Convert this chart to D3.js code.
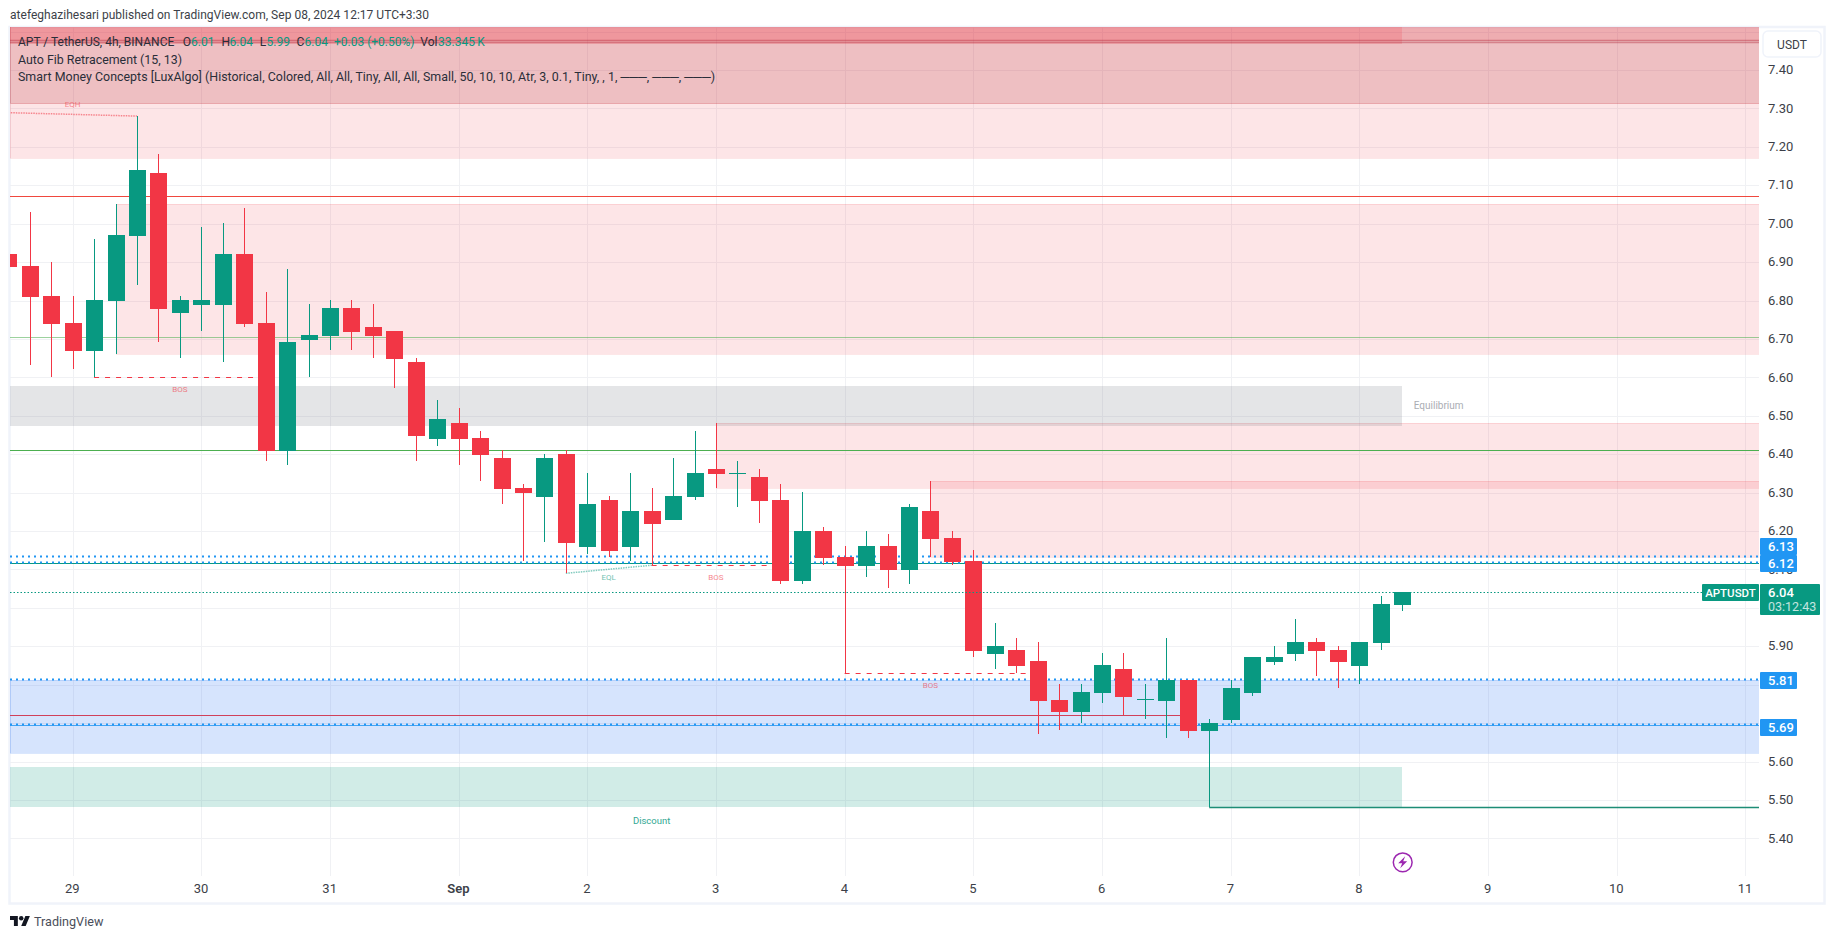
<!DOCTYPE html>
<html>
<head>
<meta charset="utf-8">
<title>APTUSDT 4h</title>
<script src="https://cdn.jsdelivr.net/npm/d3@7"></script>
<style>
    html, body { margin: 0; padding: 0; background: #fff; overflow: hidden; }
    svg { display: block; }
    text { font-family: Roboto, "Liberation Sans", sans-serif; }
</style>
</head>
<body>
<div id="chart"></div>
<script>
// 4h candles, first one is partly cut by the left edge of the pane
const opens = [6.921, 6.890, 6.812, 6.741, 6.669, 6.799, 6.968, 7.132, 6.768, 6.788, 6.788, 6.921,
    6.741, 6.409, 6.697, 6.708, 6.781, 6.731, 6.721, 6.640, 6.439, 6.481, 6.442, 6.390,
    6.312, 6.289, 6.401, 6.159, 6.281, 6.159, 6.252, 6.229, 6.289, 6.361, 6.348, 6.341,
    6.281, 6.070, 6.200, 6.132, 6.109, 6.161, 6.099, 6.252, 6.182, 6.122, 5.880, 5.890,
    5.862, 5.760, 5.729, 5.778, 5.841, 5.760, 5.758, 5.812, 5.680, 5.708, 5.778, 5.859,
    5.880, 5.911, 5.890, 5.849, 5.909, 6.008];
const highs = [6.921, 7.030, 6.900, 6.812, 6.960, 7.051, 7.280, 7.181, 6.812, 6.991, 7.002, 7.041,
    6.822, 6.882, 6.791, 6.801, 6.801, 6.791, 6.721, 6.650, 6.541, 6.520, 6.460, 6.411,
    6.322, 6.401, 6.411, 6.351, 6.291, 6.351, 6.312, 6.390, 6.460, 6.481, 6.382, 6.361,
    6.322, 6.302, 6.211, 6.161, 6.200, 6.192, 6.270, 6.330, 6.200, 6.151, 5.961, 5.922,
    5.911, 5.802, 5.802, 5.883, 5.883, 5.802, 5.922, 5.812, 5.711, 5.812, 5.872, 5.901,
    5.971, 5.922, 5.901, 5.911, 6.031, 6.041];
const lows = [6.888, 6.632, 6.601, 6.622, 6.600, 6.661, 6.840, 6.692, 6.650, 6.721, 6.640, 6.731,
    6.382, 6.372, 6.601, 6.671, 6.671, 6.650, 6.572, 6.382, 6.421, 6.372, 6.330, 6.270,
    6.122, 6.172, 6.090, 6.140, 6.132, 6.122, 6.111, 6.229, 6.281, 6.312, 6.263, 6.221,
    6.062, 6.062, 6.112, 5.830, 6.080, 6.052, 6.062, 6.132, 6.112, 5.872, 5.841, 5.831,
    5.672, 5.682, 5.700, 5.752, 5.721, 5.711, 5.661, 5.661, 5.481, 5.700, 5.771, 5.851,
    5.862, 5.823, 5.791, 5.802, 5.890, 5.992];
const closes = [6.888, 6.809, 6.739, 6.669, 6.801, 6.971, 7.140, 6.778, 6.801, 6.801, 6.921, 6.739,
    6.409, 6.692, 6.710, 6.781, 6.718, 6.708, 6.648, 6.447, 6.492, 6.439, 6.398, 6.309,
    6.299, 6.390, 6.169, 6.270, 6.148, 6.252, 6.218, 6.291, 6.351, 6.348, 6.351, 6.278,
    6.070, 6.200, 6.130, 6.109, 6.161, 6.099, 6.263, 6.179, 6.119, 5.888, 5.901, 5.849,
    5.758, 5.729, 5.781, 5.851, 5.768, 5.762, 5.812, 5.680, 5.700, 5.791, 5.872, 5.872,
    5.911, 5.888, 5.859, 5.911, 6.010, 6.041];

// axis ticks
const dayTicks = [3, 9, 15, 21, 27, 33, 39, 45, 51, 57, 63, 69, 75, 81];
const dayLabels = ["29", "30", "31", "Sep", "2", "3", "4", "5", "6", "7", "8", "9", "10", "11"];
const gridPrices = [7.5, 7.4, 7.3, 7.2, 7.1, 7.0, 6.9, 6.8, 6.7, 6.6, 6.5, 6.4, 6.3, 6.2, 6.1,
    6.0, 5.9, 5.8, 5.7, 5.6, 5.5, 5.4];
// 6.00 and 5.70 sit fully behind the price boxes, so they get no label
const labelPrices = [7.4, 7.3, 7.2, 7.1, 7.0, 6.9, 6.8, 6.7, 6.6, 6.5, 6.4, 6.3, 6.2, 6.1,
    5.9, 5.8, 5.6, 5.5, 5.4];

// smart money zones: [from bar, to bar, top price, bottom price]
const redZones = [
    [0, 90, 7.313, 7.172],
    [5, 90, 7.05, 6.661],
    [33, 90, 6.48, 6.313],
    [43, 90, 6.33, 6.133]
];
const darkTopZone = [0, 90, 7.52, 7.313];
const upperTopZone = [0, 90, 7.52, 7.475];
const leftTopZone = [0, 65, 7.52, 7.468];
const equilibriumZone = [0, 65, 6.577, 6.473];
const discountZone = [0, 65, 5.586, 5.482];
const blueZone = [0, 90, 5.812, 5.623];

// horizontal levels
const fibUpper = 7.072;
const fibMiddle = 6.704;
const fibLower = 6.41;
const tealLevel = 6.117;
const redLevel = [0, 55, 5.72];
const lowLevel = [56, 90, 5.482];
const topLevels = [7.479, 7.473];
const dottedLevels = [6.135, 6.12, 5.815, 5.697];
const solidBlueLevel = 5.695;
const lastPrice = 6.041;

// BOS dashes: [from bar, to bar, price]
const bosLines = [
    [4, 12, 6.60],
    [30, 36, 6.111],
    [39, 48, 5.83]
];
// equal highs / lows: [from bar, from price, to bar, to price]
const eqhLine = [0, 7.289, 6, 7.28];
const eqlLine = [26, 6.09, 30, 6.111];

// small labels in the pane: [text, bar, price]
const bosLabels = [["BOS", 8, 6.57], ["BOS", 33, 6.08], ["BOS", 43, 5.80]];
const eqhLabel = ["EQH", 3, 7.312];
const eqlLabel = ["EQL", 28, 6.08];
const equilibriumLabel = ["Equilibrium", 66.7, 6.526];
const discountLabel = ["Discount", 30, 5.445];

// boxes on the price axis
const priceBoxes = [["6.13", 6.16], ["6.12", 6.117], ["5.81", 5.812], ["5.69", 5.69]];

// legend line one: [text, left edge, value colour or not]
const legendParts = [
    ["APT / TetherUS, 4h, BINANCE", 18, false],
    ["O", 182.7, false], ["6.01", 191, true],
    ["H", 221.4, false], ["6.04", 229.5, true],
    ["L", 259.8, false], ["5.99", 266.5, true],
    ["C", 296.6, false], ["6.04", 304.5, true],
    ["+0.03 (+0.50%)", 334, true],
    ["Vol", 420.3, false], ["33.345\u2009K", 438, true]
];

const upColor = "#089981";
const downColor = "#F23645";
const blueColor = "#2196F3";
const gridColor = "#f0f1f4";
const frameColor = "#f0f3fa";
const textColor = "#3c3f48";

const width = 1835, height = 939;
const pane = { left: 10, top: 27, right: 1759, bottom: 876 };

const svg = d3.select("#chart").append("svg")
    .attr("width", width)
    .attr("height", height);

const x = d3.scaleLinear().domain([0, 81]).range([8.3, 1745.3]);
const y = d3.scaleLinear().domain([7.4, 5.4]).range([70, 838.4]);

svg.append("defs").append("clipPath").attr("id", "pane-clip")
    .append("rect")
    .attr("x", pane.left)
    .attr("y", pane.top)
    .attr("width", pane.right - pane.left)
    .attr("height", pane.bottom - pane.top);

// frame round the chart
svg.append("rect")
    .attr("x", 9.5).attr("y", 27)
    .attr("width", 1815).attr("height", 876.5)
    .attr("fill", "none")
    .attr("stroke", frameColor)
    .attr("stroke-width", 2.5);

// published line
svg.append("text")
    .attr("x", 10).attr("y", 19)
    .attr("font-size", 12).attr("fill", textColor)
    .attr("textLength", 419).attr("lengthAdjust", "spacing")
    .text("atefeghazihesari published on TradingView.com, Sep 08, 2024 12:17 UTC+3:30");

const plot = svg.append("g").attr("clip-path", "url(#pane-clip)");

// grid
plot.append("g").selectAll("line").data(gridPrices).join("line")
    .attr("x1", pane.left).attr("x2", pane.right)
    .attr("y1", d => Math.round(y(d)) + 0.5).attr("y2", d => Math.round(y(d)) + 0.5)
    .attr("stroke", gridColor);
plot.append("g").selectAll("line").data(dayTicks).join("line")
    .attr("x1", d => Math.round(x(d)) + 0.5).attr("x2", d => Math.round(x(d)) + 0.5)
    .attr("y1", pane.top).attr("y2", pane.bottom)
    .attr("stroke", gridColor);

function drawZone(zone, fill, stroke) {
    const x0 = zone[0] === 0 ? pane.left : Math.round(x(zone[0]));
    const x1 = zone[1] === 90 ? pane.right : Math.round(x(zone[1]));
    const y0 = Math.round(y(zone[2]));
    const y1 = Math.round(y(zone[3]));
    plot.append("rect")
        .attr("x", x0).attr("y", y0)
        .attr("width", x1 - x0).attr("height", y1 - y0)
        .attr("fill", fill)
        .attr("stroke", stroke || "none")
        .attr("shape-rendering", "crispEdges");
}

function drawLevel(price, from, to, color, opts) {
    const o = opts || {};
    const py = Math.round(y(price)) + 0.5;
    plot.append("line")
        .attr("x1", from).attr("x2", to)
        .attr("y1", py).attr("y2", py)
        .attr("stroke", color)
        .attr("stroke-width", o.width || 1)
        .attr("stroke-dasharray", o.dash || null)
        .attr("opacity", o.opacity || 1);
}

// zones
const redFill = "rgba(242,54,69,0.13)";
const redEdge = "rgba(242,54,69,0.12)";
redZones.forEach(z => drawZone(z, redFill, redEdge));
drawZone([0, 90, 7.52, 7.313], redFill);
drawZone(darkTopZone, "rgba(178,40,51,0.2)", "rgba(178,40,51,0.25)");
drawZone(upperTopZone, redFill);
drawZone(leftTopZone, "rgba(242,54,69,0.18)");
drawZone(equilibriumZone, "rgba(120,123,134,0.2)");
drawZone(discountZone, "rgba(8,153,129,0.19)");
drawZone(blueZone, "rgba(50,120,245,0.2)", "rgba(50,120,245,0.18)");

// fib and order block levels, all behind the candles
topLevels.forEach(p => drawLevel(p, pane.left, pane.right, "#b2283a", { opacity: 0.4, width: 1.5 }));
drawLevel(fibUpper, pane.left, pane.right, "#f0483e");
drawLevel(fibMiddle, pane.left, pane.right, "#4caf50", { opacity: 0.55 });
drawLevel(fibLower, pane.left, pane.right, "#4caf50", { width: 1.2 });
drawLevel(tealLevel, pane.left, pane.right, upColor, { width: 1.2 });
drawLevel(redLevel[2], pane.left, x(redLevel[1]), "#d0405a", { width: 1.2 });
drawLevel(lowLevel[2], x(lowLevel[0]), pane.right, "#1d8d76", { width: 1.4 });
dottedLevels.forEach(p => drawLevel(p, pane.left, pane.right, blueColor, { width: 2, dash: "2 4" }));
drawLevel(solidBlueLevel, pane.left, pane.right, blueColor, { opacity: 0.8 });

bosLines.forEach(d => {
    plot.append("line")
        .attr("x1", x(d[0])).attr("x2", x(d[1]))
        .attr("y1", Math.round(y(d[2])) + 0.5).attr("y2", Math.round(y(d[2])) + 0.5)
        .attr("stroke", downColor)
        .attr("stroke-dasharray", "5 6");
});

plot.append("line")
    .attr("x1", x(eqhLine[0])).attr("y1", y(eqhLine[1]))
    .attr("x2", x(eqhLine[2])).attr("y2", y(eqhLine[3]))
    .attr("stroke", downColor).attr("opacity", 0.55)
    .attr("stroke-width", 1.5).attr("stroke-dasharray", "1.5 1");
plot.append("line")
    .attr("x1", x(eqlLine[0])).attr("y1", y(eqlLine[1]))
    .attr("x2", x(eqlLine[2])).attr("y2", y(eqlLine[3]))
    .attr("stroke", upColor).attr("opacity", 0.5)
    .attr("stroke-width", 1.5).attr("stroke-dasharray", "1.5 1");

// candles
const candles = plot.append("g").selectAll("g").data(closes).join("g")
    .attr("fill", (d, i) => d >= opens[i] ? upColor : downColor);
candles.append("rect")
    .attr("x", (d, i) => Math.round(x(i)))
    .attr("width", 1)
    .attr("y", (d, i) => Math.round(y(highs[i])))
    .attr("height", (d, i) => Math.round(y(lows[i])) - Math.round(y(highs[i])))
    .attr("shape-rendering", "crispEdges");
candles.append("rect")
    .attr("x", (d, i) => Math.round(x(i)) - 8)
    .attr("width", 17)
    .attr("y", (d, i) => Math.round(y(Math.max(d, opens[i]))))
    .attr("height", (d, i) => Math.max(1, Math.round(y(Math.min(d, opens[i]))) - Math.round(y(Math.max(d, opens[i])))))
    .attr("shape-rendering", "crispEdges");

// last price line goes over the candles
drawLevel(lastPrice, pane.left, pane.right, upColor, { dash: "1.5 2" });

// small labels
function paneLabel(d, color, size, opacity) {
    plot.append("text")
        .attr("x", x(d[1])).attr("y", y(d[2]))
        .attr("dy", "0.35em")
        .attr("text-anchor", "middle")
        .attr("font-size", size)
        .attr("fill", color)
        .attr("opacity", opacity)
        .text(d[0]);
}
bosLabels.forEach(d => paneLabel(d, downColor, 8, 0.6));
paneLabel(eqhLabel, downColor, 8, 0.55);
paneLabel(eqlLabel, upColor, 8, 0.6);
paneLabel(equilibriumLabel, "#9598a1", 10, 0.8);
paneLabel(discountLabel, upColor, 9.5, 0.85);

// lightning icon
const bolt = svg.append("g").attr("transform", "translate(1402.7,862.3)");
bolt.append("circle").attr("r", 9.4).attr("fill", "#fff").attr("stroke", "#9c27b0").attr("stroke-width", 1.5);
bolt.append("path").attr("d", "M2.5,-6 L-4.5,1 L-0.5,1 L-2.5,6 L4.5,-1 L0.5,-1 Z").attr("fill", "#9c27b0");

// price axis
const priceAxis = d3.axisRight(y)
    .tickValues(labelPrices)
    .tickSize(0)
    .tickPadding(0)
    .tickFormat(d3.format(".2f"));
const priceG = svg.append("g")
    .attr("transform", "translate(1768,-0.5)")
    .call(priceAxis);
priceG.select(".domain").remove();
priceG.selectAll("text").attr("font-size", 13).attr("fill", textColor)
    .style("font-family", "Roboto, sans-serif");

// time axis
const timeAxis = d3.axisBottom(x)
    .tickValues(dayTicks)
    .tickSize(0)
    .tickPadding(0)
    .tickFormat((d, i) => dayLabels[i]);
const timeG = svg.append("g")
    .attr("transform", "translate(-0.8,884)")
    .call(timeAxis);
timeG.select(".domain").remove();
timeG.selectAll("text").attr("font-size", 13).attr("fill", textColor)
    .style("font-family", "Roboto, sans-serif")
    .attr("font-weight", (d, i) => dayLabels[i] === "Sep" ? 600 : 400);

// USDT button
svg.append("rect")
    .attr("x", 1763).attr("y", 31)
    .attr("width", 58).attr("height", 26)
    .attr("rx", 5)
    .attr("fill", "#fff")
    .attr("stroke", frameColor).attr("stroke-width", 1.5);
svg.append("text")
    .attr("x", 1792).attr("y", 49)
    .attr("text-anchor", "middle")
    .attr("font-size", 12).attr("fill", textColor)
    .text("USDT");

// blue price boxes
priceBoxes.forEach(d => {
    const cy = y(d[1]);
    svg.append("rect")
        .attr("x", 1760).attr("y", Math.round(cy) - 8)
        .attr("width", 37).attr("height", 17)
        .attr("rx", 1)
        .attr("fill", blueColor);
    svg.append("text")
        .attr("x", 1768).attr("y", Math.round(cy) + 5)
        .attr("font-size", 13).attr("font-weight", 500)
        .attr("fill", "#fff")
        .text(d[0]);
});

// last price box and symbol tag
const lastY = Math.round(y(lastPrice));
svg.append("rect")
    .attr("x", 1760).attr("y", lastY - 8)
    .attr("width", 60).attr("height", 31)
    .attr("rx", 1)
    .attr("fill", upColor);
svg.append("text")
    .attr("x", 1768).attr("y", lastY + 5)
    .attr("font-size", 13).attr("font-weight", 500).attr("fill", "#fff")
    .text(lastPrice.toFixed(2));
svg.append("text")
    .attr("x", 1768).attr("y", lastY + 19)
    .attr("font-size", 12.5).attr("fill", "#fff").attr("opacity", 0.75)
    .text("03:12:43");
svg.append("rect")
    .attr("x", 1702).attr("y", lastY - 8)
    .attr("width", 57).attr("height", 17)
    .attr("rx", 1)
    .attr("fill", upColor);
svg.append("text")
    .attr("x", 1730.5).attr("y", lastY + 4.5)
    .attr("text-anchor", "middle")
    .attr("font-size", 11.5).attr("font-weight", 500).attr("fill", "#fff")
    .text("APTUSDT");

// legend
const legendColor = "#2a2e39";
svg.append("g").selectAll("text").data(legendParts).join("text")
    .attr("x", d => d[1]).attr("y", 46)
    .attr("font-size", 12)
    .attr("fill", d => d[2] ? upColor : legendColor)
    .text(d => d[0]);

svg.append("text")
    .attr("x", 18).attr("y", 63.5)
    .attr("font-size", 12.4).attr("fill", legendColor)
    .attr("textLength", 164).attr("lengthAdjust", "spacing")
    .text("Auto Fib Retracement (15, 13)");
svg.append("text")
    .attr("x", 18).attr("y", 80.5)
    .attr("font-size", 12.4).attr("fill", legendColor)
    .attr("textLength", 697).attr("lengthAdjust", "spacing")
    .text("Smart Money Concepts [LuxAlgo] (Historical, Colored, All, All, Tiny, All, All, Small, 50, 10, 10, Atr, 3, 0.1, Tiny, , 1, ───, ───, ───)");

// TradingView mark
const logo = svg.append("g").attr("transform", "translate(10,916) scale(0.56)").attr("fill", "#131722");
logo.append("path").attr("d", "M14 18H7V7H0V0h14v18zM28 18h-8L27.5 0h8L28 18z");
logo.append("circle").attr("cx", 20).attr("cy", 4).attr("r", 4);
svg.append("text")
    .attr("x", 34).attr("y", 926)
    .attr("font-size", 12.6).attr("fill", "#4a4e5a")
    .text("TradingView");
</script>
</body>
</html>
